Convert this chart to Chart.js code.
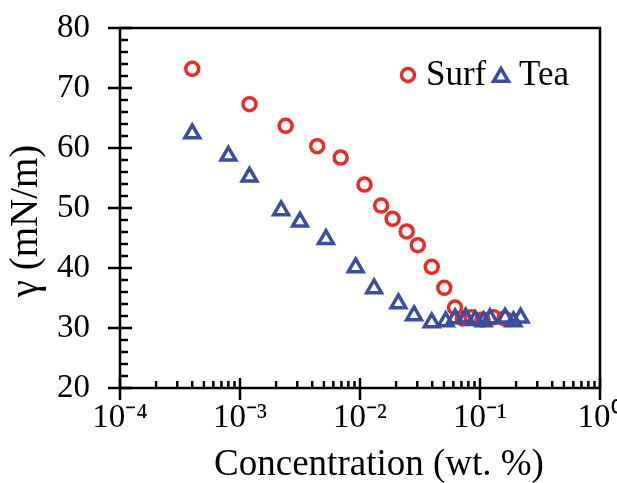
<!DOCTYPE html>
<html>
<head>
<meta charset="utf-8">
<script src="https://cdn.jsdelivr.net/npm/chart.js@4"></script>
<style>
  html, body { margin: 0; padding: 0; background: #fff; }
</style>
</head>
<body>
<canvas id="graficoTension" width="617" height="483"></canvas>
<script>
// concentration (wt. %) and surface tension (mN/m)
const surfConc = [4.0e-4, 1.2e-3, 2.4e-3, 4.4e-3, 6.9e-3, 0.0109, 0.0150, 0.0187, 0.0245, 0.0303, 0.0396, 0.0504, 0.0619, 0.072, 0.085, 0.105, 0.13, 0.16];
const surfTension = [73.2, 67.3, 63.7, 60.3, 58.4, 53.9, 50.4, 48.2, 46.1, 43.8, 40.2, 36.7, 33.4, 31.6, 31.8, 31.4, 31.8, 31.6];

const teaConc = [4.0e-4, 8.0e-4, 1.2e-3, 2.2e-3, 3.16e-3, 5.2e-3, 9.2e-3, 0.0131, 0.0209, 0.0282, 0.0396, 0.0518, 0.062, 0.076, 0.091, 0.107, 0.121, 0.162, 0.19, 0.218];
const teaTension = [62.4, 58.7, 55.2, 49.6, 47.7, 44.8, 40.1, 36.6, 34.1, 32.1, 30.9, 31.1, 31.6, 31.7, 31.3, 31.1, 31.6, 31.7, 31.1, 31.7];

const xDecades = [1e-4, 1e-3, 1e-2, 1e-1, 1];
const xTickLabels = ["10⁻⁴", "10⁻³", "10⁻²", "10⁻¹", "10⁰"];
const yTicks = [20, 30, 40, 50, 60, 70, 80];

const FONT = "'Liberation Serif', 'Times New Roman', serif";
const RED = "#ec2a26";
const BLUE = "#3a4ea1";

function toPoints(xs, ys) {
  return xs.map((x, i) => ({ x: x, y: ys[i] }));
}

// frame, inner ticks, axis titles and legend
const marcoPlugin = {
  id: "marco",
  afterDraw(chart) {
    const ctx = chart.ctx;
    const area = chart.chartArea;
    const xs = chart.scales.x;
    const ys = chart.scales.y;
    ctx.save();
    ctx.strokeStyle = "#000";
    ctx.lineWidth = 2.5;
    ctx.strokeRect(area.left, area.top, area.right - area.left, area.bottom - area.top);

    ctx.beginPath();
    for (let v = 20; v <= 80; v += 2) {
      const y = ys.getPixelForValue(v);
      if (yTicks.includes(v)) {
        ctx.moveTo(area.left - 12, y);
        ctx.lineTo(area.left + 12, y);
      } else {
        ctx.moveTo(area.left, y);
        ctx.lineTo(area.left + 8, y);
      }
    }
    xDecades.forEach((d, i) => {
      const x = xs.getPixelForValue(d);
      ctx.moveTo(x, area.bottom + 12);
      ctx.lineTo(x, area.bottom - 10);
      if (i < xDecades.length - 1) {
        for (let k = 2; k <= 9; k++) {
          const xm = xs.getPixelForValue(k * d);
          ctx.moveTo(xm, area.bottom);
          ctx.lineTo(xm, area.bottom - 7);
        }
      }
    });
    ctx.stroke();

    ctx.fillStyle = "#000";
    ctx.textAlign = "center";
    ctx.textBaseline = "middle";
    ctx.font = "37px " + FONT;
    ctx.fillText("Concentration (wt. %)", 379, 465);
    ctx.save();
    ctx.translate(27, 221);
    ctx.rotate(-Math.PI / 2);
    ctx.font = "39px " + FONT;
    ctx.fillText("γ (mN/m)", 0, 0);
    ctx.restore();

    // legend
    ctx.lineWidth = 3.5;
    ctx.strokeStyle = RED;
    ctx.beginPath();
    ctx.arc(408, 75, 6.5, 0, Math.PI * 2);
    ctx.stroke();
    ctx.strokeStyle = BLUE;
    ctx.beginPath();
    const r = 8.5, cx = 501, cy = 77;
    ctx.moveTo(cx, cy - r);
    ctx.lineTo(cx + r * Math.sin(2 * Math.PI / 3), cy - r * Math.cos(2 * Math.PI / 3));
    ctx.lineTo(cx + r * Math.sin(4 * Math.PI / 3), cy - r * Math.cos(4 * Math.PI / 3));
    ctx.closePath();
    ctx.stroke();
    ctx.fillStyle = "#000";
    ctx.textAlign = "left";
    ctx.font = "35px " + FONT;
    ctx.fillText("Surf", 426, 76);
    ctx.fillText("Tea", 519, 76);
    ctx.restore();
  },
};

const ctx = document.getElementById("graficoTension");

new Chart(ctx, {
  type: "scatter",
  data: {
    datasets: [
      {
        label: "Surf",
        data: toPoints(surfConc, surfTension),
        pointStyle: "circle",
        pointRadius: 6.5,
        pointBorderWidth: 3.5,
        borderColor: RED,
        backgroundColor: "rgba(0,0,0,0)",
        order: 1,
      },
      {
        label: "Tea",
        data: toPoints(teaConc, teaTension),
        pointStyle: "triangle",
        pointRadius: 8.5,
        pointBorderWidth: 3.5,
        borderColor: BLUE,
        backgroundColor: "rgba(0,0,0,0)",
        order: 0,
      },
    ],
  },
  options: {
    responsive: false,
    animation: false,
    layout: { padding: { top: 28, right: 17, left: 0, bottom: 0 } },
    plugins: {
      legend: { display: false },
      tooltip: { enabled: false },
    },
    scales: {
      x: {
        type: "logarithmic",
        min: 1e-4,
        max: 1,
        afterBuildTicks: (scale) => {
          scale.ticks = xDecades.map((v) => ({ value: v }));
        },
        afterFit: (scale) => {
          scale.height = 95;
          scale.paddingLeft = 0;
          scale.paddingRight = 0;
        },
        ticks: {
          callback: (value) => xTickLabels[xDecades.indexOf(value)],
          font: { family: FONT, size: 33 },
          color: "#000",
          padding: 11,
          maxRotation: 0,
          autoSkip: false,
        },
        grid: { display: false, drawTicks: false },
        border: { display: false },
      },
      y: {
        min: 20,
        max: 80,
        afterBuildTicks: (scale) => {
          scale.ticks = yTicks.map((v) => ({ value: v }));
        },
        afterFit: (scale) => {
          scale.width = 120;
          scale.paddingTop = 0;
          scale.paddingBottom = 0;
        },
        ticks: {
          font: { family: FONT, size: 33 },
          color: "#000",
          padding: 30,
        },
        grid: { display: false, drawTicks: false },
        border: { display: false },
      },
    },
  },
  plugins: [marcoPlugin],
});
</script>
</body>
</html>
